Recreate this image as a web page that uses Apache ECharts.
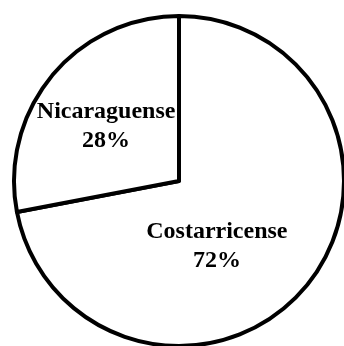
<!DOCTYPE html>
<html>
<head>
<meta charset="utf-8">
<script src="https://cdn.jsdelivr.net/npm/echarts@6/dist/echarts.min.js"></script>
<style>
  html, body { margin: 0; padding: 0; background: #fff; }
  #chart { width: 344px; height: 346px; }
</style>
</head>
<body>
<div id="chart"></div>
<script>
// Share of population by nationality
const categories = ['Costarricense', 'Nicaraguense'];
const shares = [72, 28];

// Per-slice label nudges (pixels) from the default inside position
const labelOffsets = [[-28, 11], [-7, 0]];

const chart = echarts.init(document.getElementById('chart'), null, { renderer: 'canvas' });

chart.setOption({
  animation: false,
  backgroundColor: '#ffffff',
  series: [{
    type: 'pie',
    center: [179, 181],
    radius: 165,
    startAngle: 90,
    clockwise: true,
    silent: true,
    itemStyle: {
      color: '#ffffff',
      borderColor: '#000000',
      borderWidth: 4
    },
    label: {
      show: true,
      position: 'inside',
      formatter: '{b}\n{c}%',
      fontFamily: '"Liberation Serif", "Times New Roman", serif',
      fontWeight: 'bold',
      fontSize: 24,
      lineHeight: 29,
      color: '#000000',
      align: 'center'
    },
    labelLine: { show: false },
    labelLayout: function (params) {
      const off = labelOffsets[params.dataIndex];
      return { dx: off[0], dy: off[1] };
    },
    data: categories.map((name, i) => ({ name: name, value: shares[i] }))
  }]
});
</script>
</body>
</html>
